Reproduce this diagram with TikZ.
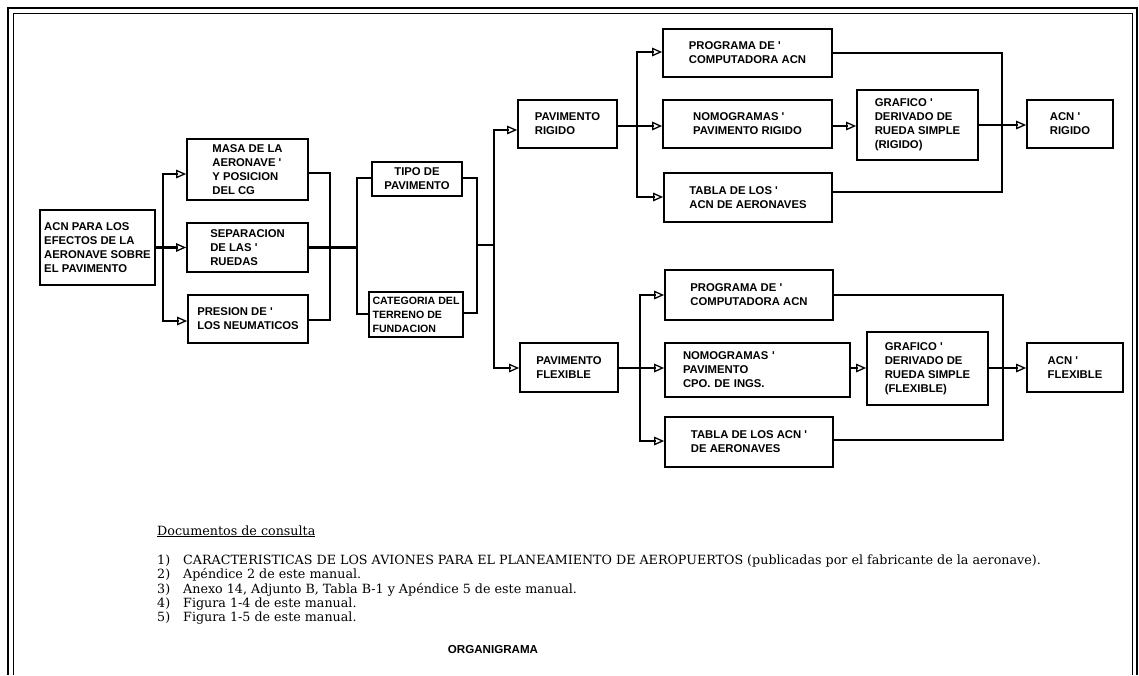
\documentclass[tikz,border=0pt]{standalone}
\usepackage{fontspec}
\usetikzlibrary{arrows.meta}
\newfontfamily\boxfont{Liberation Sans}
\newfontfamily\docfont{DejaVu Serif}
\begin{document}
\begin{tikzpicture}[x=1pt,y=-1pt,
  box/.style={draw, line width=1.7pt, font=\boxfont\bfseries\fontsize{11.3}{14}\selectfont, align=left, inner sep=2pt},
  conn/.style={line width=2.5pt, line cap=rect},
  arr/.style={line width=2.5pt, line cap=rect, -{Triangle[open,length=10pt,width=8.5pt,line width=1.3pt]}},
  doc/.style={font=\docfont\fontsize{12.7}{14}\selectfont, inner sep=0pt},
  frameout/.style={line width=2.8pt},
  framein/.style={line width=0.9pt}]
\useasboundingbox (0,0) rectangle (1139,675);
% frame
\draw[frameout] (8,675) -- (8,8) -- (1137,8) -- (1137,675);
\draw[framein] (13,675) -- (13,13) -- (1132,13) -- (1132,675);
% boxes
\node[box, minimum width=115pt, minimum height=75pt] (acn) at (97.5,247.5) {ACN PARA LOS\\EFECTOS DE LA\\AERONAVE SOBRE\\EL PAVIMENTO};
\node[box, minimum width=121pt, minimum height=61pt] (masa) at (247.5,169.5) {MASA DE LA\\AERONAVE '\\Y POSICION\\DEL CG};
\node[box, minimum width=121pt, minimum height=49pt] (sep) at (247.5,247.5) {SEPARACION\\DE LAS '\\RUEDAS};
\node[box, minimum width=120pt, minimum height=48pt] (pres) at (248,319) {PRESION DE '\\LOS NEUMATICOS};
\node[box, align=center, minimum width=90pt, minimum height=34pt] (tipo) at (417,179) {TIPO DE\\PAVIMENTO};
\node[box, inner xsep=1.5pt, font=\boxfont\bfseries\fontsize{10.6}{14}\selectfont, minimum width=94pt, minimum height=45pt] (cat) at (416,314.5) {CATEGORIA DEL\\TERRENO DE\\FUNDACION};
\node[box, minimum width=99pt, minimum height=48pt] (pr) at (567.5,124) {PAVIMENTO\\RIGIDO};
\node[box, minimum width=98pt, minimum height=49pt] (pf) at (569,367.5) {PAVIMENTO\\FLEXIBLE};
\node[box, minimum width=169pt, minimum height=48pt] (prog1) at (747.5,53) {PROGRAMA DE '\\COMPUTADORA ACN};
\node[box, minimum width=169pt, minimum height=48pt] (nomo1) at (747.5,124) {NOMOGRAMAS '\\PAVIMENTO RIGIDO};
\node[box, minimum width=168pt, minimum height=49pt] (tabla1) at (748,197.5) {TABLA DE LOS '\\ACN DE AERONAVES};
\node[box, minimum width=121pt, minimum height=70pt] (graf1) at (917.5,125) {GRAFICO '\\DERIVADO DE\\RUEDA SIMPLE\\(RIGIDO)};
\node[box, minimum width=86pt, minimum height=48pt] (acnr) at (1070,124) {ACN '\\RIGIDO};
\node[box, minimum width=168pt, minimum height=50pt] (prog2) at (749,295) {PROGRAMA DE '\\COMPUTADORA ACN};
\node[box, inner xsep=18pt, text width=149pt, minimum height=54pt] (nomo2) at (757.5,370) {NOMOGRAMAS '\\PAVIMENTO\\CPO. DE INGS.};
\node[box, minimum width=168pt, minimum height=50pt] (tabla2) at (749,442) {TABLA DE LOS ACN '\\DE AERONAVES};
\node[box, minimum width=121pt, minimum height=73pt] (graf2) at (927.5,368.5) {GRAFICO '\\DERIVADO DE\\RUEDA SIMPLE\\(FLEXIBLE)};
\node[box, minimum width=96pt, minimum height=49pt] (acnf) at (1075,367.5) {ACN '\\FLEXIBLE};
% bus coordinates
\coordinate (b1t) at (163,174);
\coordinate (b1m) at (163,247.5);
\coordinate (b1b) at (163,321);
\coordinate (b2t) at (330,173);
\coordinate (b2b) at (330,320);
\coordinate (b3t) at (357,178);
\coordinate (b3m) at (357,247.5);
\coordinate (b3b) at (357,314);
\coordinate (b4t) at (477,178);
\coordinate (b4m) at (477,245);
\coordinate (b4b) at (477,313);
\coordinate (b5t) at (494,130);
\coordinate (b5m) at (494,245);
\coordinate (b5b) at (494,368);
\coordinate (b6t) at (637,52);
\coordinate (b6m) at (637,126);
\coordinate (b6b) at (637,197);
\coordinate (b7t) at (1002,53);
\coordinate (b7b) at (1002,192);
\coordinate (b8t) at (640,295);
\coordinate (b8m) at (640,368);
\coordinate (b8b) at (640,441);
\coordinate (b9t) at (1003,295);
\coordinate (b9b) at (1003,440);
% connectors
\draw[conn] (acn.east) -- (b1m);
\draw[arr] (b1m) -- (b1t) -- (masa.west |- b1t);
\draw[arr] (b1m) -- (sep.west);
\draw[arr] (b1m) -- (b1b) -- (pres.west |- b1b);
\draw[conn] (masa.east |- b2t) -- (b2t) -- (b2b) -- (pres.east |- b2b);
\draw[conn] (sep.east) -- (b3m);
\draw[conn] (tipo.west |- b3t) -- (b3t) -- (b3b) -- (cat.west |- b3b);
\draw[conn] (tipo.east |- b4t) -- (b4t) -- (b4b) -- (cat.east |- b4b);
\draw[conn] (b4m) -- (b5m);
\draw[arr] (b5m) -- (b5t) -- (pr.west |- b5t);
\draw[arr] (b5m) -- (b5b) -- (pf.west |- b5b);
\draw[conn] (pr.east |- b6m) -- (b6m);
\draw[arr] (b6m) -- (b6t) -- (prog1.west |- b6t);
\draw[arr] (b6m) -- (nomo1.west |- b6m);
\draw[arr] (b6m) -- (b6b) -- (tabla1.west |- b6b);
\draw[arr] (nomo1.east |- b6m) -- (graf1.west |- b6m);
\draw[conn] (prog1.east |- b7t) -- (b7t) -- (b7b) -- (tabla1.east |- b7b);
\draw[arr] (graf1.east) -- (acnr.west |- graf1.east);
\draw[conn] (pf.east |- b8m) -- (b8m);
\draw[arr] (b8m) -- (b8t) -- (prog2.west |- b8t);
\draw[arr] (b8m) -- (nomo2.west |- b8m);
\draw[arr] (b8m) -- (b8b) -- (tabla2.west |- b8b);
\draw[arr] (nomo2.east |- b8m) -- (graf2.west |- b8m);
\draw[conn] (prog2.east |- b9t) -- (b9t) -- (b9b) -- (tabla2.east |- b9b);
\draw[arr] (graf2.east |- b8m) -- (acnf.west |- b8m);
% references
\node[doc, anchor=base west] (dochead) at (157,535) {\underline{Documentos de consulta}};
\node[doc, anchor=base west] (i1) at (157,564) {\makebox[26pt][l]{1)}CARACTERISTICAS DE LOS AVIONES PARA EL PLANEAMIENTO DE AEROPUERTOS (publicadas por el fabricante de la aeronave).};
\node[doc, anchor=base west] (i2) at (157,578) {\makebox[26pt][l]{2)}Apéndice 2 de este manual.};
\node[doc, anchor=base west] (i3) at (157,593) {\makebox[26pt][l]{3)}Anexo 14, Adjunto B, Tabla B-1 y Apéndice 5 de este manual.};
\node[doc, anchor=base west] (i4) at (157,607) {\makebox[26pt][l]{4)}Figura 1-4 de este manual.};
\node[doc, anchor=base west] (i5) at (157,621) {\makebox[26pt][l]{5)}Figura 1-5 de este manual.};
\node[font=\boxfont\bfseries\fontsize{11.6}{13}\selectfont, anchor=base, inner sep=0pt] (org) at (493,653) {ORGANIGRAMA};
\end{tikzpicture}
\end{document}
